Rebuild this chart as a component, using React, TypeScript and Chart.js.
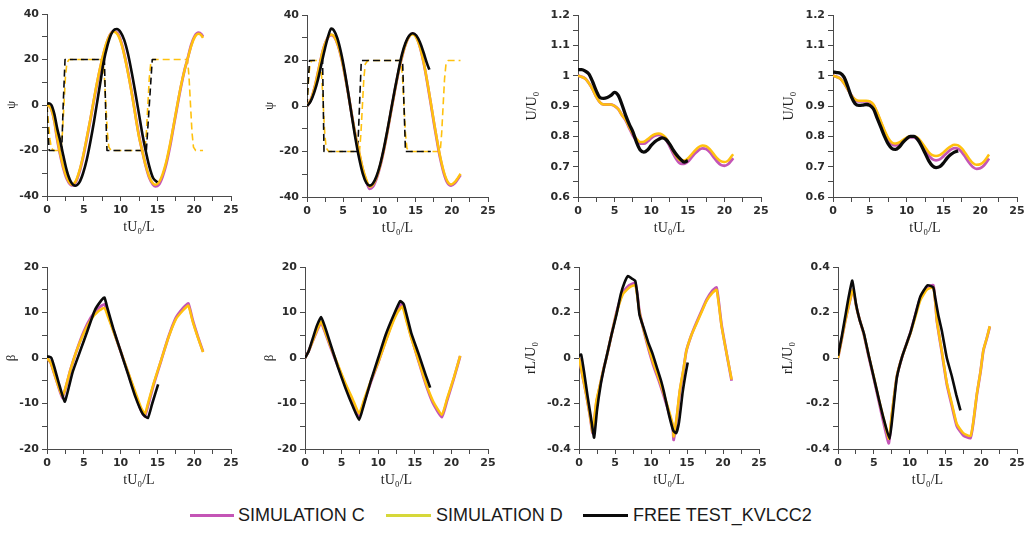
import React, { useEffect, useRef } from 'react';
import { Chart, registerables } from 'chart.js';
Chart.register(...registerables);

// ---------- DATA ----------
// Panel 1: heading psi (zigzag, port first)
const p1SimT = [0,0.3,0.6,1.0,1.3,1.7,2.2,2.7,3.37,3.9,4.4,4.9,5.4,5.9,6.4,6.9,7.47,8.0,8.5,9.06,9.6,10.1,10.6,11.1,11.6,12.1,12.5,12.93,13.4,13.9,14.4,14.75,15.2,15.7,16.2,16.7,17.2,17.7,18.2,18.7,19.08,19.6,20.1,20.6,21.0,21.2];
const p1SimD = [0,-0.5,-2,-7,-13,-20,-27,-32,-35,-33.5,-29,-22.5,-14.5,-6,3,11.5,20,26.5,30.5,32.2,31,27,20.5,12.5,3.5,-6.5,-14,-20,-26.5,-31.5,-34.5,-35,-34,-30.5,-25,-17.5,-9,0,8.5,15.5,20,26,30,31.3,30.5,29.5];
const p1SimC = [0,-0.5,-2,-7,-13.5,-20.5,-27.5,-32.5,-35.3,-34,-29.5,-23,-15,-6.5,2.5,11,19.5,26,30.5,32.5,31.5,27.5,21,13,4,-6,-13.5,-20,-26.5,-32,-35,-35.8,-35,-31.5,-26,-18.5,-9.5,-0.5,8,15.5,20,26.5,30.5,31.8,31,30];
const p1ExpT = [0,0.25,0.6,1.0,1.4,1.78,2.2,2.7,3.2,3.83,4.4,4.9,5.4,5.9,6.4,6.9,7.3,7.7,8.2,8.7,9.2,9.5,10,10.5,11,11.5,12,12.5,13,13.4,13.9,14.4,15];
const p1Exp = [0.3,0.8,0,-4,-10.5,-15.5,-22,-29,-33.5,-35.5,-34,-30,-24,-16,-7,3,11,19,26,31,33.2,33.4,32,28.5,22.5,14.5,5.5,-4,-13.5,-20,-27,-32,-34];
const p1RudSimT = [0,0.2,0.4,0.6,0.9,1.9,2.1,2.3,2.5,2.7,3.0,7.6,7.8,8.0,8.2,8.4,8.7,13.3,13.5,13.7,13.9,14.1,14.4,19.1,19.3,19.5,19.7,19.9,20.2,21.2];
const p1RudSim = [0,-8,-15,-19,-20,-20,-12,0,12,18.5,20,20,12,0,-12,-18.5,-20,-20,-12,0,12,18.5,20,20,12,0,-12,-18.5,-20,-20];
const p1RudExpT = [0,0.1,0.3,2.0,2.2,2.45,7.8,7.95,8.15,13.5,13.9,14.3,14.9];
const p1RudExp = [0,-10,-20,-20,0,20,20,0,-20,-20,0,20,20];

// Panel 2: heading psi (zigzag, starboard first)
const p2SimT = [0,0.5,1,1.5,1.8,2.2,2.7,3.35,3.8,4.3,4.8,5.3,5.8,6.3,6.8,7.25,7.7,8.2,8.65,9.1,9.6,10.1,10.6,11.1,11.6,12.1,12.6,13,13.5,14,14.6,15.1,15.6,16.1,16.6,17.1,17.6,18.1,18.4,18.9,19.4,19.9,20.4,20.8,21.2];
const p2SimD = [0,2.5,7.5,14.5,19,24.5,29,31.4,30.3,26.5,20.5,12.5,3.5,-6,-14.5,-21,-27.5,-32.5,-35.5,-34.6,-31.4,-26.2,-19.3,-11.2,-2.4,6.3,14.5,20.2,26,30,31.5,30.1,25.9,19.3,10.9,1.4,-8.3,-17.4,-22.3,-28.9,-33.1,-34.5,-33.5,-31.8,-29.8];
const p2SimC = [0,2.5,7.5,14.5,19,24.5,29,31.2,30.2,26.5,20.5,12.5,3.5,-6,-14.8,-21.5,-28,-33.2,-36.4,-35.5,-32,-26.6,-19.6,-11.4,-2.5,6.2,14.4,20,26,30,31.8,30.4,26,19.2,10.6,1,-8.8,-18,-23,-29.6,-33.8,-35,-34,-32.3,-30.3];
const p2ExpT = [0,0.5,1,1.5,2,2.5,3,3.35,3.7,4.2,4.7,5.2,5.7,6.2,6.7,7.2,7.7,8.2,8.65,9.1,9.6,10.1,10.6,11.1,11.6,12.1,12.6,13.1,13.6,14.1,14.6,15.1,15.6,16.1,16.6,16.9];
const p2Exp = [0,2,6,11.5,18.5,25.5,31.5,34,33.3,29.7,23.5,15.3,5.6,-4.6,-14.4,-23,-29.7,-33.8,-35,-34.1,-30.9,-25.7,-18.8,-10.7,-1.9,6.8,15,22.5,27.7,30.9,32,31,28,23.5,18.5,16];
const p2RudSimT = [0,0.15,0.3,0.45,0.7,1.85,2.05,2.25,2.45,2.65,3.0,7.25,7.45,7.65,7.85,8.05,8.4,13.0,13.2,13.4,13.6,13.8,14.1,18.4,18.6,18.8,19.0,19.2,19.5,21.2];
const p2RudSim = [0,8,15,19,20,20,12,0,-12,-18.5,-20,-20,-12,0,12,18.5,20,20,12,0,-12,-18.5,-20,-20,-12,0,12,18.5,20,20];
const p2RudExpT = [0,0.15,0.35,2.15,2.25,2.35,7.0,7.25,7.5,13.2,13.4,13.6,17.1];
const p2RudExp = [0,10,20,20,0,-20,-20,0,20,20,0,-20,-20];

// Panel 3: speed U/U0 (first test)
const p3SimT = [0,1,1.5,2,2.5,3,3.5,4,4.5,5,5.5,6,6.5,7,7.5,8,8.5,9,9.5,10,10.5,11,11.5,12,12.5,13,13.5,14,14.5,15,15.5,16,16.5,17,17.5,18,18.5,19,19.5,20,20.5,21,21.2];
const p3SimD = [1.0,0.99,0.975,0.955,0.93,0.912,0.905,0.905,0.905,0.9,0.89,0.87,0.855,0.83,0.808,0.792,0.781,0.782,0.79,0.8,0.807,0.809,0.806,0.795,0.775,0.752,0.732,0.72,0.72,0.727,0.74,0.754,0.765,0.77,0.768,0.758,0.743,0.728,0.718,0.715,0.72,0.735,0.741];
const p3SimC = [1.0,0.99,0.975,0.955,0.93,0.912,0.905,0.905,0.905,0.9,0.89,0.87,0.853,0.827,0.803,0.786,0.776,0.776,0.783,0.794,0.802,0.805,0.802,0.79,0.768,0.743,0.722,0.71,0.709,0.716,0.73,0.744,0.755,0.76,0.758,0.748,0.732,0.717,0.706,0.703,0.708,0.722,0.728];
const p3ExpT = [0,0.5,1,1.5,2,2.5,3,3.5,4,4.5,5,5.5,6,6.5,7,7.5,8,8.5,9,9.5,10,10.5,11,11.5,12,12.5,13,13.5,14,14.5,15];
const p3Exp = [1.02,1.02,1.015,1.005,0.98,0.95,0.928,0.925,0.928,0.935,0.945,0.935,0.905,0.87,0.84,0.815,0.78,0.755,0.748,0.755,0.77,0.782,0.79,0.795,0.79,0.775,0.755,0.738,0.725,0.715,0.72];

// Panel 4: speed U/U0 (second test)
const p4SimT = [0,1,1.5,2,2.5,3,3.5,4,4.5,5,5.5,6,6.5,7,7.5,8,8.5,9,9.5,10,10.5,11,11.5,12,12.5,13,13.5,14,14.5,15,15.5,16,16.5,17,17.5,18,18.5,19,19.5,20,20.5,21,21.2];
const p4SimD = [1.0,0.99,0.975,0.955,0.935,0.922,0.917,0.917,0.917,0.915,0.905,0.88,0.85,0.82,0.795,0.78,0.776,0.78,0.788,0.796,0.8,0.8,0.795,0.782,0.765,0.748,0.738,0.735,0.738,0.747,0.758,0.767,0.772,0.77,0.76,0.744,0.726,0.712,0.706,0.708,0.717,0.733,0.74];
const p4SimC = [1.0,0.99,0.975,0.955,0.935,0.92,0.915,0.915,0.915,0.913,0.903,0.877,0.846,0.815,0.79,0.774,0.77,0.774,0.784,0.793,0.797,0.797,0.79,0.775,0.756,0.737,0.725,0.721,0.724,0.734,0.746,0.756,0.761,0.759,0.748,0.731,0.713,0.699,0.693,0.695,0.704,0.72,0.727];
const p4ExpT = [0,0.5,1,1.5,2,2.5,3,3.5,4,4.5,5,5.5,6,6.5,7,7.5,8,8.5,9,9.5,10,10.5,11,11.5,12,12.5,13,13.5,14,14.5,15,15.5,16,16.5,17];
const p4Exp = [1.012,1.01,1.008,0.995,0.965,0.93,0.908,0.902,0.903,0.905,0.902,0.89,0.86,0.83,0.8,0.775,0.76,0.757,0.765,0.78,0.792,0.8,0.8,0.79,0.77,0.745,0.72,0.703,0.697,0.7,0.712,0.728,0.74,0.748,0.752];

// Panel 5: drift angle beta (first test)
const p5SimT = [0,0.5,1,1.5,2.1,2.6,3.2,4,5,6,7,7.8,8.3,9,10,11,12,12.8,13.3,13.8,14.5,15.5,16.5,17.5,18.5,19.2,19.8,20.5,21.2];
const p5SimD = [0,-1,-3.5,-6,-8.5,-6,-2.5,1.5,5.5,8.5,10.3,11,9,6,1.5,-3,-7.5,-11,-12.3,-9.5,-5.5,-0.5,4.5,8.5,10.5,11.5,8,4.5,1.3];
const p5SimC = [0,-1,-3.5,-6,-8.8,-6.2,-2.5,1.5,5.8,9,11,11.8,9.5,6.2,1.5,-3.2,-8,-11.6,-12.8,-10,-5.8,-0.6,4.6,8.8,11,12,8.3,4.7,1.4];
const p5ExpT = [0,0.3,0.6,1,1.6,2.4,2.8,3.5,4.5,5.5,6.5,7.3,7.8,8.2,9,10,11,12,13,13.7,14.3,15.1];
const p5Exp = [0.3,0.3,0,-2,-5.5,-9.6,-7.5,-3,1.5,6,10.5,12.5,13.3,11,6.5,1.5,-3.5,-8.5,-12.3,-13.2,-10,-5.8];

// Panel 6: drift angle beta (second test)
const p6SimT = [0,0.5,1,1.6,2.2,2.7,3.5,4.5,5.5,6.5,7.4,8,9,10,11,12,12.7,13.3,13.8,14.5,15.5,16.5,17.5,18.7,19.4,20.3,21.2];
const p6SimD = [0,1.5,3.5,6,8,6,2.5,-1.5,-5.5,-9,-12.2,-9.5,-5,-1,3.5,7.8,10.2,11.3,8.5,4.5,-0.5,-5.5,-9.5,-12.5,-9,-4.5,0.5];
const p6SimC = [0,1.5,3.5,5.8,7.8,5.8,2.3,-1.8,-5.9,-9.5,-12.8,-10,-5.3,-1,3.7,8.2,10.8,12,9,4.7,-0.6,-5.8,-10,-13,-9.4,-4.7,0.4];
const p6ExpT = [0,0.5,1,1.6,2.2,2.7,3.5,4.5,5.5,6.5,7.4,8,9,10,11,12,13,13.5,14.5,15.5,16.5,17.1];
const p6Exp = [0,1.5,4,7,9,7,3,-2,-6.5,-10.5,-13.6,-10.5,-5,0,5,9,12.5,11.8,5.6,1,-3.8,-6.5];

// Panel 7: yaw rate rL/U0 (first test)
const p7SimT = [0,0.5,1,1.5,1.9,2.4,2.9,3.4,3.8,4.5,5.2,6.1,7,7.8,8.1,8.4,9.4,10.3,11.2,12.2,13,13.15,13.6,14,14.5,14.9,15.6,16.3,17,17.7,18.5,19.1,19.4,19.8,20.5,21.2];
const p7SimD = [0,-0.08,-0.16,-0.25,-0.325,-0.19,-0.12,-0.05,0,0.1,0.195,0.28,0.31,0.32,0.27,0.2,0.075,-0.02,-0.1,-0.2,-0.29,-0.345,-0.25,-0.14,-0.05,0.03,0.1,0.15,0.2,0.25,0.285,0.3,0.24,0.14,0.02,-0.095];
const p7SimC = [0,-0.08,-0.16,-0.25,-0.33,-0.2,-0.125,-0.05,0,0.1,0.2,0.29,0.32,0.33,0.28,0.205,0.07,-0.03,-0.11,-0.21,-0.3,-0.36,-0.26,-0.15,-0.055,0.03,0.1,0.155,0.205,0.255,0.295,0.31,0.25,0.145,0.02,-0.1];
const p7ExpT = [0,0.3,0.7,1.2,1.7,2.1,2.5,3,3.5,4,4.5,5.2,5.8,6.3,6.8,7.3,7.8,8.1,8.4,9,9.6,10.2,10.8,11.4,11.8,12.5,13.1,13.5,13.9,14.4,14.8,15.1];
const p7Exp = [0.01,0.015,-0.06,-0.17,-0.27,-0.35,-0.23,-0.12,-0.04,0.03,0.1,0.19,0.28,0.33,0.36,0.35,0.34,0.28,0.19,0.13,0.07,0.02,-0.04,-0.1,-0.15,-0.25,-0.32,-0.33,-0.28,-0.15,-0.07,-0.02];

// Panel 8: yaw rate rL/U0 (second test)
const p8SimT = [0,0.5,1,1.5,2.1,2.6,3.1,3.6,4.3,5,5.7,6.4,7.1,7.5,8.2,9,10.1,10.8,11.5,12.4,13.3,13.6,13.8,14.5,15.2,15.9,16.6,17.5,18.5,18.9,19.4,19.9,20.3,20.8,21.2];
const p8SimD = [0,0.08,0.16,0.23,0.3,0.22,0.16,0.107,0.01,-0.083,-0.18,-0.27,-0.355,-0.25,-0.083,0.01,0.107,0.18,0.254,0.3,0.31,0.24,0.166,0.03,-0.11,-0.2,-0.29,-0.33,-0.343,-0.28,-0.156,-0.06,0.034,0.09,0.14];
const p8SimC = [0,0.08,0.16,0.23,0.3,0.22,0.16,0.105,0.005,-0.09,-0.19,-0.29,-0.375,-0.26,-0.085,0.01,0.11,0.19,0.265,0.31,0.32,0.245,0.165,0.025,-0.115,-0.21,-0.3,-0.34,-0.352,-0.285,-0.16,-0.062,0.032,0.088,0.138];
const p8ExpT = [0,0.5,1,1.5,2,2.5,3,3.6,4.3,5,5.7,6.4,7.2,7.6,8.2,9,10.1,10.8,11.5,12.5,13.3,13.6,14,14.5,15.2,15.9,16.5,17.1];
const p8Exp = [0.01,0.09,0.18,0.27,0.34,0.24,0.17,0.11,0.01,-0.085,-0.18,-0.27,-0.355,-0.26,-0.09,0.01,0.11,0.19,0.27,0.32,0.31,0.26,0.19,0.12,0,-0.08,-0.16,-0.23];

const legendLabels = ['SIMULATION C', 'SIMULATION D', 'FREE TEST_KVLCC2'];
const xTitle = 'tU₀/L';

// ---------- STYLE ----------
const MAG = '#c455b6';
const YEL = '#ffc10e';
const BLK = '#0a0a0a';
const AXIS = '#4a4a4a';
const TICK_FONT = { family: "'DejaVu Sans', sans-serif", size: 11, weight: 'bold' as const };
const TITLE_FAMILY = "'Liberation Serif', 'DejaVu Serif', serif";

type Series = { t: number[]; v: number[]; color: string; width: number; dash?: number[]; smooth: number };
type Panel = {
  areaLeft: number; areaTop: number; areaW: number; areaH: number; yW: number;
  yMin: number; yMax: number; yStep: number; yLabelStep: number;
  yTitle: string; yTitleSize: number; series: Series[];
};

const isMult = (v: number, step: number) => Math.abs(v / step - Math.round(v / step)) < 1e-6;
const fmt = (v: number) => String(Math.round(v * 100) / 100 + 0);

// smooth: 2 = monotone cubic, 1 = light tension, 0 = straight
function sims(expT: number[], exp: number[], simT: number[], simD: number[], simC: number[], smooth: number, bw: number): Series[] {
  return [
    { t: expT, v: exp, color: BLK, width: bw, smooth },
    { t: simT, v: simD, color: YEL, width: 2.5, smooth },
    { t: simT, v: simC, color: MAG, width: 2.8, smooth },
  ];
}

const panels: Panel[] = [
  {
    areaLeft: 47, areaTop: 14, areaW: 184, areaH: 182, yW: 47, yMin: -40, yMax: 40, yStep: 10, yLabelStep: 20,
    yTitle: 'ψ', yTitleSize: 13,
    series: [
      ...sims(p1ExpT, p1Exp, p1SimT, p1SimD, p1SimC, 2, 2.6),
      { t: p1RudExpT, v: p1RudExp, color: BLK, width: 1.6, dash: [7, 4], smooth: 0 },
      { t: p1RudSimT, v: p1RudSim, color: YEL, width: 1.6, dash: [7, 4], smooth: 0 },
    ],
  },
  {
    areaLeft: 307, areaTop: 15, areaW: 181, areaH: 182, yW: 49, yMin: -40, yMax: 40, yStep: 10, yLabelStep: 20,
    yTitle: 'ψ', yTitleSize: 13,
    series: [
      ...sims(p2ExpT, p2Exp, p2SimT, p2SimD, p2SimC, 2, 2.6),
      { t: p2RudExpT, v: p2RudExp, color: BLK, width: 1.6, dash: [7, 4], smooth: 0 },
      { t: p2RudSimT, v: p2RudSim, color: YEL, width: 1.6, dash: [7, 4], smooth: 0 },
    ],
  },
  {
    areaLeft: 578, areaTop: 15, areaW: 183, areaH: 182, yW: 58, yMin: 0.6, yMax: 1.2, yStep: 0.05, yLabelStep: 0.1,
    yTitle: 'U/U₀', yTitleSize: 14,
    series: sims(p3ExpT, p3Exp, p3SimT, p3SimD, p3SimC, 2, 3.3),
  },
  {
    areaLeft: 833, areaTop: 15, areaW: 184, areaH: 182, yW: 56, yMin: 0.6, yMax: 1.2, yStep: 0.05, yLabelStep: 0.1,
    yTitle: 'U/U₀', yTitleSize: 14,
    series: sims(p4ExpT, p4Exp, p4SimT, p4SimD, p4SimC, 2, 3.3),
  },
  {
    areaLeft: 47, areaTop: 267, areaW: 184, areaH: 182, yW: 47, yMin: -20, yMax: 20, yStep: 5, yLabelStep: 10,
    yTitle: 'β', yTitleSize: 13,
    series: sims(p5ExpT, p5Exp, p5SimT, p5SimD, p5SimC, 1, 2.6),
  },
  {
    areaLeft: 305, areaTop: 267, areaW: 183, areaH: 182, yW: 47, yMin: -20, yMax: 20, yStep: 5, yLabelStep: 10,
    yTitle: 'β', yTitleSize: 13,
    series: sims(p6ExpT, p6Exp, p6SimT, p6SimD, p6SimC, 1, 2.6),
  },
  {
    areaLeft: 579, areaTop: 267, areaW: 180, areaH: 182, yW: 60, yMin: -0.4, yMax: 0.4, yStep: 0.1, yLabelStep: 0.2,
    yTitle: 'rL/U₀', yTitleSize: 14,
    series: sims(p7ExpT, p7Exp, p7SimT, p7SimD, p7SimC, 1, 2.6),
  },
  {
    areaLeft: 838, areaTop: 267, areaW: 179, areaH: 182, yW: 62, yMin: -0.4, yMax: 0.4, yStep: 0.1, yLabelStep: 0.2,
    yTitle: 'rL/U₀', yTitleSize: 14,
    series: sims(p8ExpT, p8Exp, p8SimT, p8SimD, p8SimC, 1, 2.6),
  },
];

const PAD_T = 12;
const PAD_R = 12;
const X_H = 44;

function PanelChart({ p }: { p: Panel }) {
  const ref = useRef<HTMLCanvasElement>(null);
  const W = p.yW + p.areaW + PAD_R;
  const H = PAD_T + p.areaH + X_H;
  useEffect(() => {
    const datasets = p.series.map((s) => ({
      data: s.t.map((x, i) => ({ x, y: s.v[i] })),
      borderColor: s.color,
      backgroundColor: s.color,
      borderWidth: s.width,
      borderDash: s.dash ?? [],
      pointRadius: 0,
      fill: false,
      tension: s.smooth === 2 ? 0.4 : s.smooth === 1 ? 0.15 : 0,
      cubicInterpolationMode: s.smooth === 2 ? ('monotone' as const) : ('default' as const),
      borderJoinStyle: 'round' as const,
      borderCapStyle: 'butt' as const,
    }));
    const grid = { drawOnChartArea: false, drawTicks: true, tickLength: 5, color: AXIS, lineWidth: 1 };
    const border = { display: true, color: AXIS, width: 1 };
    const chart = new Chart(ref.current as HTMLCanvasElement, {
      type: 'line',
      data: { datasets: datasets as any },
      options: {
        animation: false,
        responsive: false,
        events: [],
        layout: { padding: { top: PAD_T, right: PAD_R, left: 0, bottom: 0 } },
        plugins: { legend: { display: false }, tooltip: { enabled: false } },
        scales: {
          x: {
            type: 'linear',
            min: 0,
            max: 25,
            afterFit: (s: any) => { s.height = X_H; },
            grid,
            border,
            ticks: {
              stepSize: 2.5,
              autoSkip: false,
              maxRotation: 0,
              padding: 3,
              color: '#2b2b2b',
              font: TICK_FONT,
              callback: (v: any) => (isMult(Number(v), 5) ? fmt(Number(v)) : ''),
            },
            title: {
              display: true,
              text: xTitle,
              color: '#222',
              font: { family: TITLE_FAMILY, size: 14 },
              padding: { top: 0, bottom: 4 },
            },
          },
          y: {
            type: 'linear',
            min: p.yMin,
            max: p.yMax,
            afterFit: (s: any) => { s.width = p.yW; },
            grid,
            border,
            ticks: {
              stepSize: p.yStep,
              autoSkip: false,
              padding: 3,
              color: '#2b2b2b',
              font: TICK_FONT,
              callback: (v: any) => (isMult(Number(v), p.yLabelStep) ? fmt(Number(v)) : ''),
            },
            title: {
              display: true,
              text: p.yTitle,
              color: '#222',
              font: { family: TITLE_FAMILY, size: p.yTitleSize },
              padding: { top: 4, bottom: 0 },
            },
          },
        },
      } as any,
    });
    return () => chart.destroy();
  }, []);
  return (
    <div style={{ position: 'absolute', left: p.areaLeft - p.yW, top: p.areaTop - PAD_T, width: W, height: H }}>
      <canvas ref={ref} width={W} height={H} style={{ display: 'block', width: W, height: H }} />
    </div>
  );
}

const legendItems = [
  { label: legendLabels[0], color: MAG, lineLeft: 190, lineW: 44, textLeft: 238 },
  { label: legendLabels[1], color: '#d6d83a', lineLeft: 386, lineW: 45, textLeft: 436 },
  { label: legendLabels[2], color: BLK, lineLeft: 583, lineW: 45, textLeft: 633 },
];

export default function App() {
  return (
    <div style={{ position: 'absolute', left: 0, top: 0, width: 1029, height: 538, background: '#fff', overflow: 'hidden' }}>
      {panels.map((p, i) => (
        <PanelChart key={i} p={p} />
      ))}
      {legendItems.map((it, i) => (
        <React.Fragment key={i}>
          <div style={{ position: 'absolute', left: it.lineLeft, top: 514, width: it.lineW, height: 3, background: it.color }} />
          <div
            style={{
              position: 'absolute',
              left: it.textLeft,
              top: 504,
              height: 22,
              lineHeight: '22px',
              fontFamily: "'Liberation Sans', Arial, sans-serif",
              fontSize: 18,
              color: '#1a1a1a',
              whiteSpace: 'nowrap',
            }}
          >
            {it.label}
          </div>
        </React.Fragment>
      ))}
    </div>
  );
}
